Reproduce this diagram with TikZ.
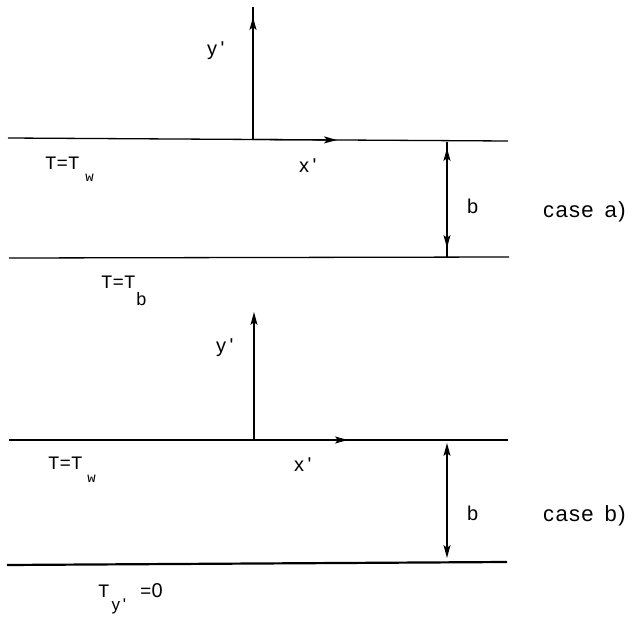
\documentclass[tikz,border=0pt]{standalone}
\usepackage{fontspec}
\newfontfamily\lab[LetterSpace=6]{Liberation Sans}
\newfontfamily\tlab{Liberation Mono}
\usetikzlibrary{arrows.meta}
\tikzset{
  wall/.style={line width=1.3pt, black},
  thickwall/.style={line width=2.2pt, black},
  axis/.style={line width=1.3pt, black},
  tip/.style={-{Stealth[length=13pt,width=7pt,inset=3pt]}},
  dtip/.style={{Stealth[length=13pt,width=7pt,inset=3pt]}-{Stealth[length=13pt,width=7pt,inset=3pt]}},
  lbl/.style={inner sep=0pt, anchor=base west, font=\lab\fontsize{20}{20}\selectfont},
  caselbl/.style={inner sep=0pt, anchor=base west, font=\lab\fontsize{22}{22}\selectfont},
  tlbl/.style={inner sep=0pt, anchor=base west, font=\tlab\fontsize{19}{19}\selectfont},
}
\newcommand{\pr}{\textquotesingle}
\begin{document}
\begin{tikzpicture}[x=1pt,y=-1pt]
\useasboundingbox (0,0) rectangle (633,618);
% ---------- case a ----------
\coordinate (aTL) at (8,138);
\coordinate (aTR) at (508,141);
\coordinate (aBL) at (9,258);
\coordinate (aBR) at (509,257);
\coordinate (aO) at (253,139.5);
\coordinate (aYtop) at (253,7);
\coordinate (aYtip) at (253,17);
\coordinate (aXtip) at (337,140);
\coordinate (abT) at (447,142);
\coordinate (abB) at (447,257);
\coordinate (abT2) at (447,148);
\coordinate (abB2) at (447,248);
\draw[wall] (aTL) -- (aTR);
\draw[wall] (aBL) -- (aBR);
\draw[axis] (aO) -- (aYtop);
\draw[axis,tip] (aO) -- (aYtip);
\draw[axis,tip] (aO) -- (aXtip);
\draw[axis] (abT) -- (abB);
\draw[axis,dtip] (abT2) -- (abB2);
\node[lbl] (ayl) at (207,56) {y\,\pr};
\node[lbl] (axl) at (299,172) {x\,\pr};
\node[lbl] (abl) at (467,213) {b};
\node[caselbl] (acase) at (543,217) {case\, a)};
\node[tlbl] (aTw) at (45,170) {T=T\hspace{6pt}\raisebox{-12pt}{\fontsize{14}{14}\selectfont w}};
\node[tlbl] (aTb) at (101,288) {T=T\hspace{1pt}\raisebox{-17pt}{\lab\fontsize{18}{18}\selectfont b}};
% ---------- case b ----------
\coordinate (bTL) at (9,440);
\coordinate (bTR) at (508,440);
\coordinate (bBL) at (7,565);
\coordinate (bBR) at (507,562);
\coordinate (bO) at (254,440);
\coordinate (bYtop) at (254,312);
\coordinate (bXtip) at (348,440);
\coordinate (bbT) at (447,443);
\coordinate (bbB) at (447,558);
\draw[wall] (bTL) -- (bTR);
\draw[thickwall] (bBL) -- (bBR);
\draw[axis,tip] (bO) -- (bYtop);
\draw[axis,tip] (bO) -- (bXtip);
\draw[axis,dtip] (bbT) -- (bbB);
\node[lbl] (byl) at (216,352) {y\,\pr};
\node[lbl] (bxl) at (294,471) {x\,\pr};
\node[lbl] (bbl) at (467,520) {b};
\node[caselbl] (bcase) at (543,521) {case\, b)};
\node[tlbl] (bTw) at (48,469) {T=T\hspace{5pt}\raisebox{-13pt}{\fontsize{14}{14}\selectfont w}};
\node[tlbl] (bTy) at (98,597) {T\hspace{2pt}\raisebox{-13pt}{\lab\fontsize{17}{17}\selectfont y\,\pr}\hspace{14pt}={\lab\fontsize{20}{20}\selectfont 0}};
\end{tikzpicture}
\end{document}
